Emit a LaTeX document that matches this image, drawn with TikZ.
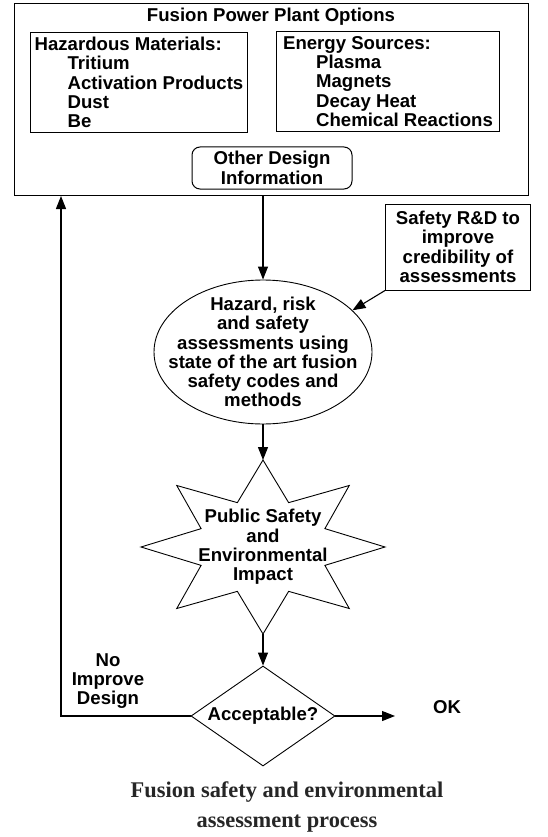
\documentclass[tikz,border=0pt]{standalone}
\usepackage{fontspec}
\setmainfont{Liberation Sans}
\newfontfamily\capfont{Liberation Serif}
\usetikzlibrary{positioning,arrows.meta,shapes.geometric,calc}
\newcommand{\fsz}{\fontsize{18.6}{19.3}\selectfont\bfseries}
\tikzset{
  frame/.style  ={draw, line width=1pt, inner sep=0pt, font=\fsz},
  listbox/.style={frame, align=left, anchor=north west},
  rbox/.style   ={frame, rounded corners=8pt, align=center},
  shp/.style    ={draw, line width=0.9pt, inner sep=0pt},
  txt/.style    ={font=\fsz, align=center, inner sep=0pt},
  arr/.style    ={-{Triangle[length=13pt,width=10pt]}, line width=1.1pt},
}
\begin{document}
\begin{tikzpicture}[x=1pt, y=-1pt]
  \useasboundingbox (0,0) rectangle (548,837);
  \node[frame, anchor=north west, minimum width=514pt, minimum height=192pt] (plant) at (14,3) {};
  \node[txt] (title) at (271,17) {Fusion Power Plant Options};
  \node[listbox, minimum width=217pt, minimum height=100pt] (haz) at (30,32)
        {Hazardous Materials:\\\hspace*{33pt}Tritium\\\hspace*{33pt}Activation Products\\\hspace*{33pt}Dust\\\hspace*{33pt}Be};
  \node[listbox, minimum width=223pt, minimum height=100pt] (src) at (276,31)
        {Energy Sources:\\\hspace*{33pt}Plasma\\\hspace*{33pt}Magnets\\\hspace*{33pt}Decay Heat\\\hspace*{33pt}Chemical Reactions};
  \node[rbox, minimum width=160pt, minimum height=42pt] (other) at (272,168) {Other Design\\Information};
  \node[frame, align=center, minimum width=145pt, minimum height=86pt] (rnd) at (458,247)
        {Safety R\&D to\\improve\\credibility of\\assessments};
  \node[shp, ellipse, minimum width=218pt, minimum height=144pt,
        label={[txt]center:Hazard, risk\\and safety\\assessments using\\state of the art fusion\\safety codes and\\methods}] (hazard) at (263,352) {};
  \coordinate (imp) at (263,547);
  \draw[shp] ($(imp)+(90:122pt and 87pt)$)
    \foreach \k in {0,...,7}{ -- ($(imp)+({112.5+45*\k}:67pt and 48pt)$) -- ($(imp)+({135+45*\k}:122pt and 87pt)$) } -- cycle;
  \coordinate (imptop) at ($(imp)+(0,-87)$);
  \coordinate (impbot) at ($(imp)+(0,87)$);
  \node[txt] (imptxt) at (imp) {Public Safety\\and\\Environmental\\Impact};
  \node[shp, diamond, minimum width=144pt, minimum height=100pt,
        label={[txt]center:Acceptable?}] (accept) at (263,716) {};
  \coordinate (okend) at (395,716);
  \coordinate (loop) at (61,716);
  \node[txt] (ok) at (447,707) {OK};
  \node[txt] (nolabel) at (108,681) {No\\Improve\\Design};
  \node[font=\capfont\fontsize{22.4}{30}\selectfont\bfseries, text=black!85, align=center, inner sep=0pt] (caption) at (287,807)
        {Fusion safety and environmental\\assessment process};
  \draw[arr] (hazard.north |- plant.south) -- (hazard.north);
  \draw[arr] (rnd.south west) -- (hazard.25);
  \draw[arr] (hazard.south) -- (imptop);
  \draw[arr] (impbot) -- (accept.north);
  \draw[arr] (accept.east) -- (okend);
  \draw[arr] (accept.west) -- (loop) -- (loop |- plant.south);
\end{tikzpicture}
\end{document}
